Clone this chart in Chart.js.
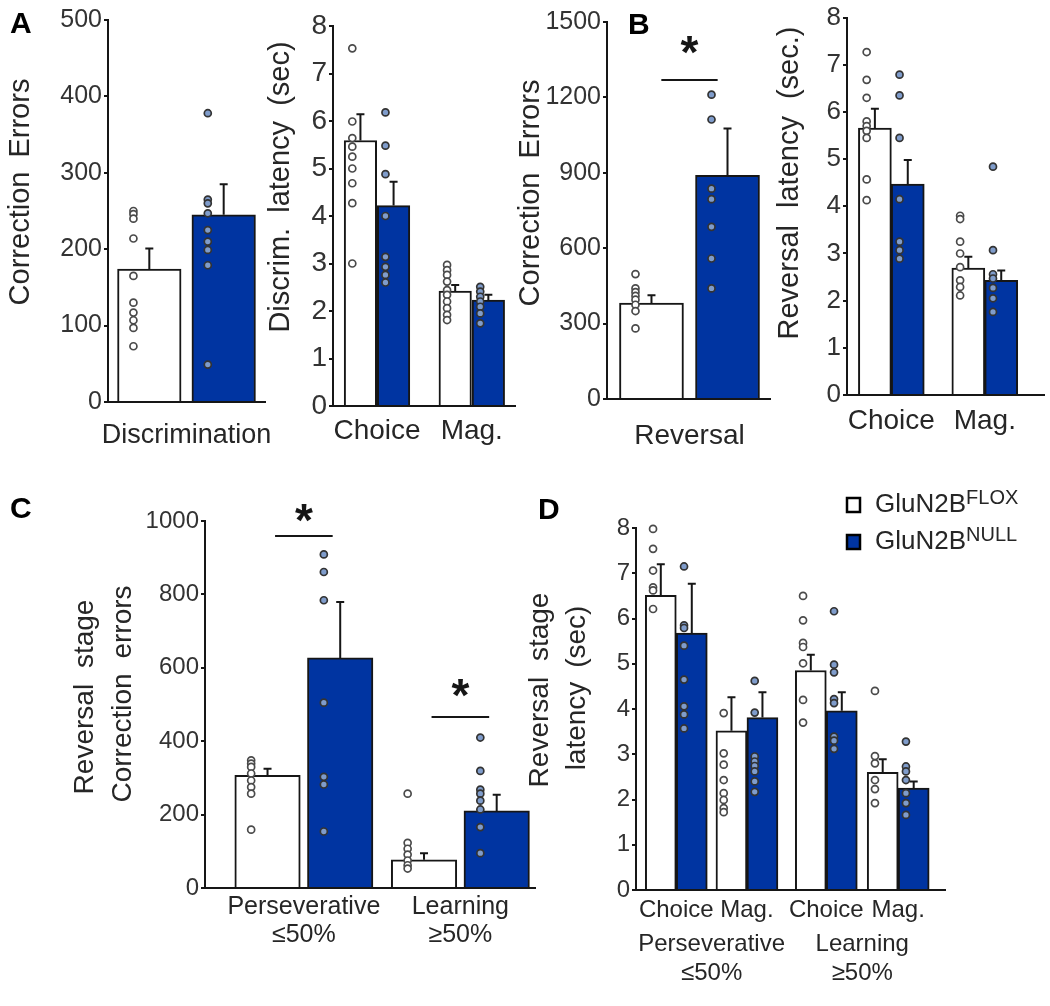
<!DOCTYPE html>
<html>
<head>
<meta charset="utf-8">
<script src="https://cdn.jsdelivr.net/npm/chart.js@4.4.1/dist/chart.umd.min.js"></script>
<style>
  body { margin: 0; background: #fff; }
  #page { position: relative; width: 1050px; height: 1006px; overflow: hidden; background: #fff; }
  #page canvas { position: absolute; }
</style>
</head>
<body>
<div id="page"></div>
<script>
// ---- A: discrimination stage ----
const discCategory = ['Discrimination'];
const discErrFlox = [174];
const discErrFloxSem = [27];
const discErrNull = [245];
const discErrNullSem = [40];
const discErrFloxPts = [[250, 246, 240, 214, 165, 130, 117, 107, 97, 73]];
const discErrNullPts = [[378, 265, 260, 247, 225, 210, 199, 179, 49]];

const latCategories = ['Choice', 'Mag.'];
const discLatFlox = [5.59, 2.42];
const discLatFloxSem = [0.55, 0.13];
const discLatNull = [4.22, 2.23];
const discLatNullSem = [0.50, 0.11];
const discLatFloxPts = [[7.53, 5.99, 5.64, 5.46, 5.25, 5.0, 4.69, 4.27, 3.0],
                        [2.97, 2.86, 2.76, 2.62, 2.44, 2.34, 2.2, 2.06, 1.92, 1.81]];
const discLatNullPts = [[6.18, 5.48, 4.88, 4.0, 3.14, 2.93, 2.76, 2.6],
                        [2.51, 2.41, 2.3, 2.2, 2.09, 1.95, 1.74]];

// ---- B: reversal stage ----
const revCategory = ['Reversal'];
const revErrFlox = [382];
const revErrFloxSem = [31];
const revErrNull = [890];
const revErrNullSem = [186];
const revErrFloxPts = [[497, 440, 425, 410, 395, 375, 350, 281]];
const revErrNullPts = [[1211, 1112, 837, 795, 685, 559, 440]];

const revLatFlox = [5.66, 2.69];
const revLatFloxSem = [0.41, 0.24];
const revLatNull = [4.47, 2.43];
const revLatNullSem = [0.51, 0.21];
const revLatFloxPts = [[7.27, 6.68, 6.3, 5.8, 5.7, 5.6, 5.45, 4.57, 4.13],
                       [3.8, 3.73, 3.25, 3.0, 2.71, 2.43, 2.29, 2.11]];
const revLatNullPts = [[6.79, 6.35, 5.45, 4.15, 3.25, 3.07, 2.89],
                       [4.84, 3.07, 2.56, 2.47, 2.27, 2.05, 1.76]];

// ---- C: reversal phases, errors ----
const phaseCategories = [['Perseverative', '≤50%'], ['Learning', '≥50%']];
const phaseErrFlox = [307, 77];
const phaseErrFloxSem = [18, 18];
const phaseErrNull = [627, 210];
const phaseErrNullSem = [152, 44];
const phaseErrFloxPts = [[348, 339, 330, 312, 293, 275, 257, 159],
                         [257, 123, 107, 91, 75, 62, 53]];
const phaseErrNullPts = [[909, 861, 784, 505, 303, 282, 154],
                         [410, 319, 268, 257, 238, 214, 166, 95]];

// ---- D: reversal phases, latency ----
const phaseLatCategories = ['Choice', 'Mag.', 'Choice', 'Mag.'];
const phaseLatFlox = [6.51, 3.52, 4.85, 2.6];
const phaseLatFloxSem = [0.69, 0.74, 0.35, 0.29];
const phaseLatNull = [5.68, 3.81, 3.96, 2.25];
const phaseLatNullSem = [1.09, 0.56, 0.41, 0.15];
const phaseLatFloxPts = [[7.98, 7.54, 7.06, 6.69, 6.62, 6.21],
                         [3.91, 3.02, 2.77, 2.43, 2.14, 1.99, 1.81, 1.72],
                         [6.5, 5.96, 5.46, 5.37, 5.01, 4.2, 3.7],
                         [4.4, 2.96, 2.8, 2.43, 2.23, 1.92]];
const phaseLatNullPts = [[7.15, 5.85, 5.79, 5.4, 4.65, 4.06, 3.88, 3.57],
                         [4.62, 3.92, 2.95, 2.84, 2.74, 2.62, 2.4, 2.17],
                         [6.16, 4.98, 4.81, 4.22, 4.13, 3.39, 3.3, 3.12],
                         [3.28, 2.73, 2.62, 2.43, 2.14, 1.92, 1.66]];

const genotypes = ['FLOX', 'NULL'];

const FONT = "'Liberation Sans', Arial, Helvetica, sans-serif";
const BLUE = '#0034a1';
const INK = '#161616';
const page = document.getElementById('page');

// text helper, coordinates are page pixels
function putText(ctx, box, t) {
  ctx.save();
  ctx.fillStyle = t.color || '#262626';
  ctx.font = (t.bold ? 'bold ' : '') + t.size + 'px ' + FONT;
  if ('wordSpacing' in ctx) ctx.wordSpacing = (t.ws || 0) + 'px';
  ctx.textAlign = t.align || 'center';
  ctx.textBaseline = t.base || 'middle';
  ctx.translate(t.x - box.x, t.y - box.y);
  if (t.rot) ctx.rotate(-Math.PI / 2);
  ctx.fillText(t.text, 0, 0);
  ctx.restore();
}

function makePanel(p) {
  const canvas = document.createElement('canvas');
  canvas.width = p.box.w;
  canvas.height = p.box.h;
  canvas.style.left = p.box.x + 'px';
  canvas.style.top = p.box.y + 'px';
  page.appendChild(canvas);

  const lm = p.area.l - p.box.x;
  const tm = p.area.t - p.box.y;
  const rm = p.box.x + p.box.w - p.area.r;
  const bm = p.box.y + p.box.h - p.area.b;
  const barPx = (p.area.r - p.area.l) / p.xMax;   // one x unit = one bar width

  const xFlox = p.centers.map(c => c - p.half);
  const xNull = p.centers.map(c => c + p.half);
  const bars = (xs, vals) => vals.map((v, i) => ({x: xs[i], y: v}));
  const dots = (xs, lists) => lists.flatMap((list, i) => list.map(v => ({x: xs[i] - 0.25, y: v})));

  const decorate = {
    id: 'decorate',
    afterDatasetDraw(chart, args) {
      const ds = chart.data.datasets[args.index];
      if (!ds.sem) return;
      const ctx = chart.ctx, y = chart.scales.y;
      ctx.save();
      ctx.strokeStyle = INK;
      ctx.lineWidth = 2;
      args.meta.data.forEach((bar, i) => {
        const top = y.getPixelForValue(ds.data[i].y + ds.sem[i]);
        ctx.beginPath();
        ctx.moveTo(bar.x, bar.y);
        ctx.lineTo(bar.x, top);
        ctx.moveTo(bar.x - 4, top);
        ctx.lineTo(bar.x + 4, top);
        ctx.stroke();
      });
      ctx.restore();
    },
    afterDraw(chart) {
      const ctx = chart.ctx, x = chart.scales.x, y = chart.scales.y;
      (p.sig || []).forEach(s => {
        const c = p.centers[s.group];
        const ly = y.getPixelForValue(s.line);
        ctx.save();
        ctx.strokeStyle = INK;
        ctx.lineWidth = 2;
        ctx.beginPath();
        ctx.moveTo(x.getPixelForValue(c - 0.44), ly);
        ctx.lineTo(x.getPixelForValue(c + 0.44), ly);
        ctx.stroke();
        ctx.fillStyle = INK;
        ctx.font = 'bold 46px ' + FONT;
        ctx.textAlign = 'center';
        ctx.textBaseline = 'alphabetic';
        ctx.fillText('*', x.getPixelForValue(c), y.getPixelForValue(s.star) + 25);
        ctx.restore();
      });
      (p.texts || []).forEach(t => putText(ctx, p.box, t));
      if (p.legend) {
        const L = p.legend;
        genotypes.forEach((g, i) => {
          const cy = L.y + i * L.gap;
          ctx.save();
          ctx.fillStyle = i === 0 ? '#fff' : BLUE;
          ctx.strokeStyle = '#000';
          ctx.lineWidth = 2.5;
          ctx.fillRect(L.x - p.box.x, cy - 7 - p.box.y, 13, 14);
          ctx.strokeRect(L.x - p.box.x, cy - 7 - p.box.y, 13, 14);
          ctx.font = '26px ' + FONT;
          const w = ctx.measureText('GluN2B').width;
          ctx.restore();
          putText(ctx, p.box, {text: 'GluN2B', x: L.x + 28, y: cy, size: 26, align: 'left'});
          putText(ctx, p.box, {text: g, x: L.x + 28 + w, y: cy - 7, size: 20, align: 'left'});
        });
      }
    }
  };

  const scales = {
    x: {
      type: 'linear', min: 0, max: p.xMax, offset: false, weight: 0,
      afterBuildTicks: s => { s.ticks = p.centers.map(v => ({value: v})); },
      afterFit: s => { s.height = p.xAxisH || bm; },
      ticks: {
        autoSkip: false, maxRotation: 0, padding: p.xPad, color: '#262626',
        font: {family: FONT, size: p.xFont, lineHeight: p.xLine || 1.2},
        callback: (v, i) => p.labels[i]
      },
      grid: {display: false},
      border: {display: true, color: INK, width: 2}
    },
    y: {
      min: 0, max: p.yMax,
      afterFit: s => { s.width = lm; },
      ticks: {stepSize: p.yStep, padding: 2, color: '#333', font: {family: FONT, size: p.yFont},
              callback: v => String(v)},
      grid: {display: true, drawOnChartArea: false, drawTicks: true, tickLength: 4, color: INK, lineWidth: 2},
      border: {display: true, color: INK, width: 2}
    }
  };
  if (p.outer) {
    scales.x2 = {
      type: 'linear', position: 'bottom', min: 0, max: p.xMax, offset: false, weight: 1,
      afterBuildTicks: s => { s.ticks = p.outer.centers.map(v => ({value: v})); },
      afterFit: s => { s.height = bm - p.xAxisH; },
      ticks: {
        autoSkip: false, maxRotation: 0, padding: p.outer.pad, color: '#262626',
        font: {family: FONT, size: p.outer.font, lineHeight: p.outer.line},
        callback: (v, i) => p.outer.labels[i]
      },
      grid: {display: false},
      border: {display: false}
    };
  }

  return new Chart(canvas, {
    type: 'bar',
    data: {
      datasets: [
        {type: 'scatter', label: 'GluN2B FLOX animals', data: dots(xFlox, p.floxPts), clip: false,
         pointRadius: 3.5, pointBorderWidth: 1.7, pointBackgroundColor: '#fff', pointBorderColor: '#4a4a4a', order: 0},
        {type: 'scatter', label: 'GluN2B NULL animals', data: dots(xNull, p.nullPts), clip: false,
         pointRadius: 3.5, pointBorderWidth: 1.7, pointBackgroundColor: '#7f9ccb', pointBorderColor: '#333', order: 0},
        {type: 'bar', label: 'GluN2B FLOX', data: bars(xFlox, p.flox), sem: p.floxSem,
         backgroundColor: '#fff', borderColor: INK, borderWidth: 2, barThickness: barPx, grouped: false, order: 2},
        {type: 'bar', label: 'GluN2B NULL', data: bars(xNull, p.nul), sem: p.nullSem,
         backgroundColor: BLUE, borderColor: INK, borderWidth: 2, barThickness: barPx, grouped: false, order: 2}
      ]
    },
    options: {
      responsive: false,
      animation: false,
      events: [],
      layout: {padding: {left: 0, top: tm, right: rm, bottom: 0}},
      plugins: {legend: {display: false}, tooltip: {enabled: false}},
      scales
    },
    plugins: [decorate]
  });
}

// A, errors
makePanel({
  box: {x: 0, y: 0, w: 310, h: 460}, area: {l: 108, t: 20, r: 265, b: 402},
  xMax: 2.47, centers: [1.235], half: 0.585,
  yMax: 500, yStep: 100, yFont: 25, xFont: 27, xPad: 9,
  labels: discCategory,
  flox: discErrFlox, floxSem: discErrFloxSem, nul: discErrNull, nullSem: discErrNullSem,
  floxPts: discErrFloxPts, nullPts: discErrNullPts,
  texts: [
    {text: 'A', x: 10, y: 33, size: 30, bold: true, align: 'left', base: 'alphabetic', color: '#000'},
    {text: 'Correction Errors', x: 21, y: 192, size: 29, rot: true, ws: 6}
  ]
});

// A, latency
makePanel({
  box: {x: 265, y: 0, w: 260, h: 460}, area: {l: 333, t: 26, r: 515, b: 406},
  xMax: 5.6, centers: [1.354, 4.27], half: 0.51,
  yMax: 8, yStep: 1, yFont: 28, xFont: 28, xPad: 0,
  labels: latCategories,
  flox: discLatFlox, floxSem: discLatFloxSem, nul: discLatNull, nullSem: discLatNullSem,
  floxPts: discLatFloxPts, nullPts: discLatNullPts,
  texts: [
    {text: 'Discrim. latency (sec)', x: 281, y: 187, size: 29, rot: true, ws: 7}
  ]
});

// B, errors
makePanel({
  box: {x: 515, y: 0, w: 265, h: 460}, area: {l: 607, t: 22, r: 770, b: 399},
  xMax: 2.547, centers: [1.289], half: 0.594,
  yMax: 1500, yStep: 300, yFont: 25, xFont: 28, xPad: 12,
  labels: revCategory,
  flox: revErrFlox, floxSem: revErrFloxSem, nul: revErrNull, nullSem: revErrNullSem,
  floxPts: revErrFloxPts, nullPts: revErrNullPts,
  sig: [{group: 0, line: 1269, star: 1416}],
  texts: [
    {text: 'B', x: 628, y: 34, size: 30, bold: true, align: 'left', base: 'alphabetic', color: '#000'},
    {text: 'Correction Errors', x: 531, y: 193, size: 29, rot: true, ws: 6}
  ]
});

// B, latency
makePanel({
  box: {x: 775, y: 0, w: 275, h: 460}, area: {l: 847, t: 16, r: 1045, b: 395},
  xMax: 6.0, centers: [1.348, 4.19], half: 0.5,
  yMax: 8, yStep: 1, yFont: 26, xFont: 28, xPad: 1,
  labels: latCategories,
  flox: revLatFlox, floxSem: revLatFloxSem, nul: revLatNull, nullSem: revLatNullSem,
  floxPts: revLatFloxPts, nullPts: revLatNullPts,
  texts: [
    {text: 'Reversal latency (sec.)', x: 790, y: 183, size: 29, rot: true, ws: 9}
  ]
});

// C, errors by phase
makePanel({
  box: {x: 0, y: 470, w: 545, h: 536}, area: {l: 205, t: 521, r: 535, b: 888},
  xMax: 5.04, centers: [1.51, 3.90], half: 0.555,
  yMax: 1000, yStep: 200, yFont: 24, xFont: 25, xLine: 1.12, xPad: -3,
  labels: phaseCategories,
  flox: phaseErrFlox, floxSem: phaseErrFloxSem, nul: phaseErrNull, nullSem: phaseErrNullSem,
  floxPts: phaseErrFloxPts, nullPts: phaseErrNullPts,
  sig: [{group: 0, line: 959, star: 1027}, {group: 1, line: 466, star: 550}],
  texts: [
    {text: 'C', x: 10, y: 518, size: 30, bold: true, align: 'left', base: 'alphabetic', color: '#000'},
    {text: 'Reversal stage', x: 85, y: 697, size: 28, rot: true, ws: 8},
    {text: 'Correction errors', x: 123, y: 694, size: 28, rot: true, ws: 7}
  ]
});

// D, latency by phase
makePanel({
  box: {x: 520, y: 470, w: 530, h: 536}, area: {l: 636, t: 528, r: 945, b: 890},
  xMax: 9.97, centers: [1.3, 3.58, 6.14, 8.46], half: 0.5,
  yMax: 8, yStep: 1, yFont: 24, xFont: 24, xPad: -2, xAxisH: 36,
  labels: phaseLatCategories,
  outer: {centers: [2.44, 7.3], labels: phaseCategories, font: 24, line: 1.2, pad: -4},
  flox: phaseLatFlox, floxSem: phaseLatFloxSem, nul: phaseLatNull, nullSem: phaseLatNullSem,
  floxPts: phaseLatFloxPts, nullPts: phaseLatNullPts,
  legend: {x: 847, y: 505, gap: 37},
  texts: [
    {text: 'D', x: 538, y: 519, size: 30, bold: true, align: 'left', base: 'alphabetic', color: '#000'},
    {text: 'Reversal stage', x: 540, y: 690, size: 28, rot: true, ws: 8},
    {text: 'latency (sec)', x: 577, y: 688, size: 28, rot: true, ws: 6}
  ]
});
</script>
</body>
</html>
